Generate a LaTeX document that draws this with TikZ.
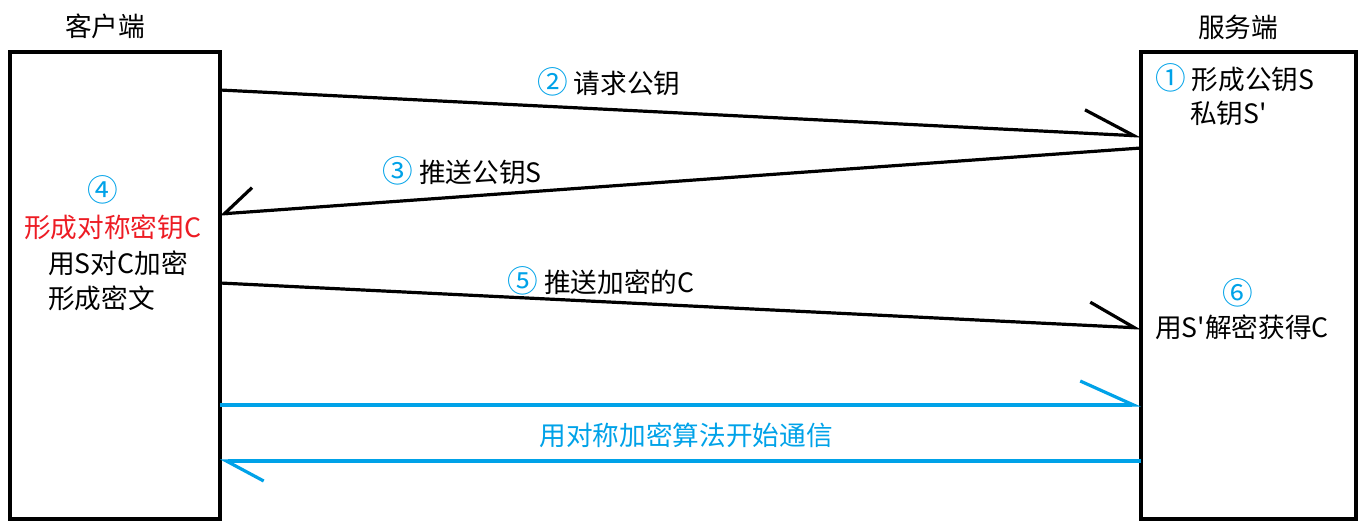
\documentclass[tikz,border=0pt]{standalone}
\usepackage{fontspec}
\setmainfont{Noto Sans CJK SC}
\usetikzlibrary{arrows.meta}
\definecolor{paintblue}{RGB}{0,162,232}
\definecolor{paintred}{RGB}{237,28,36}
\newcommand\stepno[1]{\textcolor{paintblue}{\fontsize{23}{24}\selectfont #1}}

\begin{document}
\begin{tikzpicture}[x=0.75pt, y=-0.75pt,
  every node/.style={font=\fontsize{20}{24}\selectfont, inner sep=0pt},
  box/.style={draw, line width=2.4pt, minimum height=350.25pt},
  msg/.style={line width=2.4pt},
  num/.style={text=paintblue}]
  \useasboundingbox (0,0) rectangle (1368,529);

  % the two sides
  \node[box, minimum width=157.5pt] (client) at (115,285.5) {};
  \node[box, minimum width=161.25pt] (server) at (1248.5,285.5) {};
  \node (clientname) at (105,26) {客户端};
  \node (servername) at (1238,27) {服务端};

  % ends of the messages
  \coordinate (req-c) at (220,90);
  \coordinate (req-s) at (1141,136);
  \coordinate (push-s) at (1141,148);
  \coordinate (push-c) at (220,214);
  \coordinate (enc-c) at (220,283);
  \coordinate (enc-s) at (1141,328);
  \coordinate (talk-c1) at (220,405);
  \coordinate (talk-s1) at (1141,405);
  \coordinate (talk-s2) at (1141,461);
  \coordinate (talk-c2) at (220,461);

  \draw[msg, -{Straight Barb[harpoon, length=37.5pt, width=35pt]}] (req-c) -- (req-s);
  \draw[msg, -{Straight Barb[harpoon, swap, length=22pt, width=36pt]}] (push-s) -- (push-c);
  \draw[msg, -{Straight Barb[harpoon, length=34pt, width=35pt]}] (enc-c) -- (enc-s);
  \draw[msg, paintblue, -{Straight Barb[harpoon, length=40pt, width=36pt]}] (talk-c1) -- (talk-s1);
  \draw[msg, paintblue, -{Straight Barb[harpoon, length=28pt, width=30pt]}] (talk-s2) -- (talk-c2);

  % message labels
  \node (req) at (609,82) {\stepno{②} 请求公钥};
  \node (push) at (462,171) {\stepno{③} 推送公钥S};
  \node (enc) at (601,281) {\stepno{⑤} 推送加密的C};
  \node[num] (talk) at (686,435) {用对称加密算法开始通信};

  % client steps
  \node (step4) at (103,190) {\stepno{④}};
  \node[anchor=west, text=paintred] (key) at (24,227) {形成对称密钥C};
  \node[anchor=west] (encrypt) at (48,263) {用S对C加密};
  \node[anchor=west] (cipher) at (48,298) {形成密文};

  % server steps
  \node[anchor=west] (step1) at (1155,78) {\stepno{①} 形成公钥S};
  \node[anchor=west] (private) at (1190,113) {私钥S\textquotesingle};
  \node (step6) at (1238,293) {\stepno{⑥}};
  \node (decrypt) at (1242,327) {用S\textquotesingle 解密获得C};
\end{tikzpicture}
\end{document}
